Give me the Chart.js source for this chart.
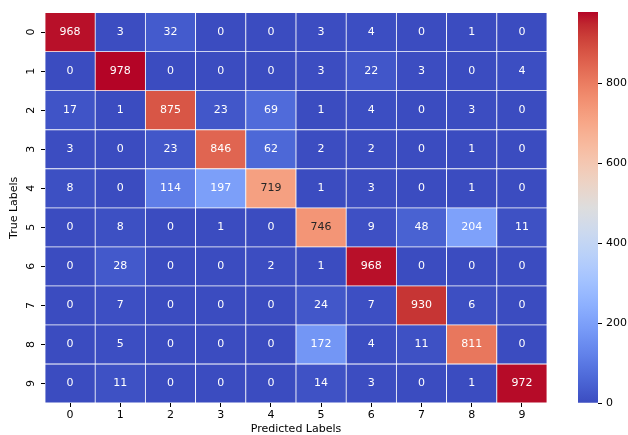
<!DOCTYPE html>
<html>
<head>
<meta charset="utf-8">
<script src="https://cdn.jsdelivr.net/npm/chart.js@4/dist/chart.umd.min.js"></script>
<style>
  html, body { margin: 0; padding: 0; background: #fff; }
  #wrap { position: relative; width: 628px; height: 435px; }
  #heat { position: absolute; left: 0; top: 0; }
  #cbar { position: absolute; left: 578px; top: 0; }
</style>
</head>
<body>
<div id="wrap">
  <canvas id="heat" width="628" height="435"></canvas>
  <canvas id="cbar" width="50" height="435"></canvas>
</div>
<script>
// Confusion matrix: rows are true labels, columns are predicted labels
const predictedLabels = ['0', '1', '2', '3', '4', '5', '6', '7', '8', '9'];
const trueLabels = ['0', '1', '2', '3', '4', '5', '6', '7', '8', '9'];
const row0 = [968, 3, 32, 0, 0, 3, 4, 0, 1, 0];
const row1 = [0, 978, 0, 0, 0, 3, 22, 3, 0, 4];
const row2 = [17, 1, 875, 23, 69, 1, 4, 0, 3, 0];
const row3 = [3, 0, 23, 846, 62, 2, 2, 0, 1, 0];
const row4 = [8, 0, 114, 197, 719, 1, 3, 0, 1, 0];
const row5 = [0, 8, 0, 1, 0, 746, 9, 48, 204, 11];
const row6 = [0, 28, 0, 0, 2, 1, 968, 0, 0, 0];
const row7 = [0, 7, 0, 0, 0, 24, 7, 930, 6, 0];
const row8 = [0, 5, 0, 0, 0, 172, 4, 11, 811, 0];
const row9 = [0, 11, 0, 0, 0, 14, 3, 0, 1, 972];
const colorbarTicks = [0, 200, 400, 600, 800];

const rows = [row0, row1, row2, row3, row4, row5, row6, row7, row8, row9];
const vmin = 0;
const vmax = Math.max(...rows.flat());

// coolwarm colormap (diverging blue - grey - red)
const COOLWARM = [
  [59,76,192],[68,90,204],[77,104,215],[87,117,225],[98,130,234],[108,142,241],
  [119,154,247],[130,165,251],[141,176,254],[152,185,255],[163,194,255],[174,201,253],
  [184,208,249],[194,213,244],[204,217,238],[213,219,230],[221,221,221],[229,216,209],
  [236,211,197],[241,204,185],[245,196,173],[247,187,160],[247,177,148],[247,166,135],
  [244,154,123],[241,141,111],[236,127,99],[229,112,88],[222,96,77],[213,80,66],
  [203,62,56],[192,40,47],[180,4,38]
];
function coolwarm(t) {
  t = Math.min(1, Math.max(0, t));
  const p = t * (COOLWARM.length - 1);
  const i = Math.min(COOLWARM.length - 2, Math.floor(p));
  const f = p - i;
  const a = COOLWARM[i], b = COOLWARM[i + 1];
  return [0, 1, 2].map(k => a[k] + (b[k] - a[k]) * f);
}
const rgb = c => `rgb(${c.map(v => Math.round(v)).join(',')})`;
function luminance(c) {
  const lin = c.map(v => {
    v /= 255;
    return v <= 0.03928 ? v / 12.92 : Math.pow((v + 0.055) / 1.055, 2.4);
  });
  return 0.2126 * lin[0] + 0.7152 * lin[1] + 0.0722 * lin[2];
}
const cellColor = v => coolwarm((v - vmin) / (vmax - vmin));

const FONT = 'DejaVu Sans';
Chart.defaults.font.family = FONT;
Chart.defaults.font.size = 11;
Chart.defaults.color = '#000';

// one floating-bar dataset per true-label row, spanning [r, r+1] on the row axis
const datasets = rows.map((row, r) => ({
  label: trueLabels[r],
  data: row.map(() => [r, r + 1]),
  values: row,
  backgroundColor: row.map(v => rgb(cellColor(v))),
  borderColor: '#ffffff',
  borderWidth: 0.75,
  borderSkipped: false,
  grouped: false,
  barPercentage: 1,
  categoryPercentage: 1
}));

const cellLabels = {
  id: 'cellLabels',
  afterDatasetsDraw(chart) {
    const ctx = chart.ctx;
    ctx.save();
    ctx.font = `11px "${FONT}"`;
    ctx.textAlign = 'center';
    ctx.textBaseline = 'middle';
    chart.data.datasets.forEach((ds, di) => {
      chart.getDatasetMeta(di).data.forEach((bar, i) => {
        const v = ds.values[i];
        ctx.fillStyle = luminance(cellColor(v)) > 0.408 ? 'rgb(38,38,38)' : '#ffffff';
        ctx.fillText(String(v), bar.x, (bar.y + bar.base) / 2);
      });
    });
    ctx.restore();
  }
};

new Chart(document.getElementById('heat'), {
  type: 'bar',
  data: { labels: predictedLabels, datasets },
  options: {
    responsive: false,
    animation: false,
    layout: { padding: { top: 12, right: 81, left: 0, bottom: 0 } },
    plugins: { legend: { display: false }, tooltip: { enabled: false } },
    scales: {
      x: {
        type: 'category',
        offset: true,
        border: { display: false },
        grid: { display: true, drawOnChartArea: false, offset: false, tickLength: 4, tickColor: '#000', tickWidth: 1 },
        ticks: { padding: 2, maxRotation: 0, minRotation: 0, color: '#000' },
        title: { display: true, text: 'Predicted Labels', font: { size: 11, lineHeight: 1 }, padding: 0, color: '#000' },
        afterFit(scale) { scale.height = 32; }
      },
      y: {
        type: 'linear',
        min: 0,
        max: 10,
        reverse: true,
        border: { display: false },
        grid: { display: true, drawOnChartArea: false, tickLength: 4, tickColor: '#000', tickWidth: 1 },
        afterBuildTicks(scale) {
          scale.ticks = trueLabels.map((_, i) => ({ value: i + 0.5 }));
        },
        ticks: {
          minRotation: 90,
          maxRotation: 90,
          crossAlign: 'center',
          padding: 6,
          color: '#000',
          callback: v => trueLabels[Math.floor(v)]
        },
        title: { display: true, text: 'True Labels', font: { size: 11, lineHeight: 1.2 }, padding: { top: 8, bottom: 0 }, color: '#000' },
        afterFit(scale) { scale.width = 45; }
      }
    }
  },
  plugins: [cellLabels]
});

// colour bar: a single bar from vmin to vmax filled with the colormap
new Chart(document.getElementById('cbar'), {
  type: 'bar',
  data: {
    labels: [''],
    datasets: [{
      data: [[vmin, vmax]],
      borderWidth: 0,
      barPercentage: 1,
      categoryPercentage: 1,
      backgroundColor(context) {
        const area = context.chart.chartArea;
        if (!area) return COOLWARM[0];
        const ys = context.chart.scales.y;
        const g = context.chart.ctx.createLinearGradient(0, ys.getPixelForValue(vmin), 0, ys.getPixelForValue(vmax));
        COOLWARM.forEach((c, i) => g.addColorStop(i / (COOLWARM.length - 1), rgb(c)));
        return g;
      }
    }]
  },
  options: {
    responsive: false,
    animation: false,
    layout: { padding: { top: 12, bottom: 32, left: 0, right: 0 } },
    plugins: { legend: { display: false }, tooltip: { enabled: false } },
    scales: {
      x: { display: false },
      y: {
        position: 'right',
        min: vmin,
        max: vmax,
        border: { display: false },
        grid: { display: true, drawOnChartArea: false, tickLength: 4, tickColor: '#000', tickWidth: 1 },
        afterBuildTicks(scale) {
          scale.ticks = colorbarTicks.map(v => ({ value: v }));
        },
        ticks: { padding: 4, color: '#000' },
        afterFit(scale) { scale.width = 30; }
      }
    }
  }
});
</script>
</body>
</html>
